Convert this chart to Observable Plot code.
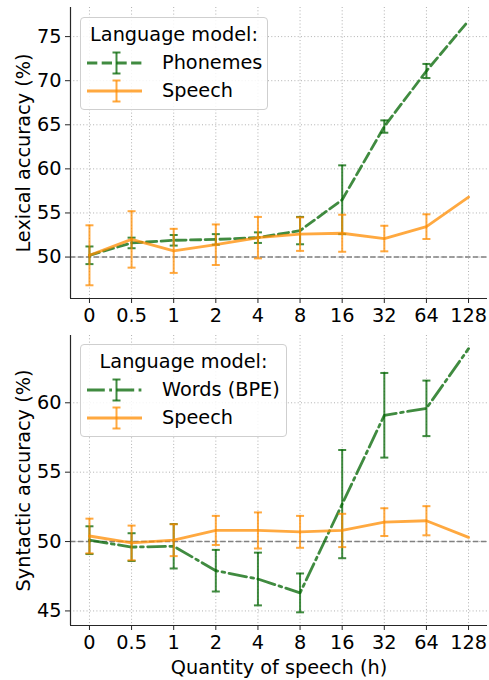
<!DOCTYPE html>
<html>
<head>
<meta charset="utf-8">
<script src="https://cdn.jsdelivr.net/npm/d3@7"></script>
<script src="https://cdn.jsdelivr.net/npm/@observablehq/plot@0.6"></script>
<style>
  body { margin: 0; background: #fff; }
  #wrap { position: relative; width: 489px; height: 680px; font-family: "DejaVu Sans", sans-serif; }
  .panel { position: absolute; left: 0; }
  .panel text { font-size: 19.3px; font-family: "DejaVu Sans", sans-serif; }
  .legend { position: absolute; border: 1px solid #cfcfcf; border-radius: 4px; background: rgba(255,255,255,0.85); box-sizing: border-box; }
  .lt { position: absolute; font-size: 19.3px; color: #000; white-space: nowrap; line-height: 1; }
  .lh { position: absolute; }
</style>
</head>
<body>
<div id="wrap"></div>
<script>
// ---- data ----
const quantities = ["0", "0.5", "1", "2", "4", "8", "16", "32", "64", "128"];

const lexPhonemes    = [50.2, 51.6, 51.9, 52.0, 52.2, 53.0, 56.5, 64.8, 71.1, 76.8];
const lexPhonemesErr = [1.0, 0.6, 0.6, 0.6, 0.6, 1.55, 3.9, 0.7, 0.8, null];
const lexSpeech      = [50.2, 52.0, 50.7, 51.4, 52.2, 52.6, 52.7, 52.1, 53.45, 56.8];
const lexSpeechErr   = [3.4, 3.2, 2.5, 2.3, 2.35, 1.9, 2.1, 1.45, 1.4, null];

const synWords       = [50.1, 49.6, 49.66, 47.9, 47.3, 46.3, 52.7, 59.1, 59.6, 63.9];
const synWordsErr    = [1.0, 1.0, 1.6, 1.5, 1.9, 1.4, 3.9, 3.05, 2.0, null];
const synSpeech      = [50.4, 49.9, 50.1, 50.8, 50.8, 50.7, 50.8, 51.4, 51.5, 50.3];
const synSpeechErr   = [1.25, 1.25, 1.15, 1.05, 1.3, 1.15, 1.2, 1.0, 1.05, null];

const lexTicks = [50, 55, 60, 65, 70, 75];
const synTicks = [45, 50, 55, 60];
const chance = 50;

const GREEN = "#006400", ORANGE = "#ff8c00", ALPHA = 0.75;

function rowsOf(vals, errs) {
  return vals.map((v, i) => ({i, v, e: errs[i]}));
}

function seriesMarks(rows, color, dash) {
  const withErr = rows.filter(d => d.e != null);
  return [
    Plot.line(rows, {x: "i", y: "v", stroke: color, strokeOpacity: ALPHA, strokeWidth: 2.8, strokeDasharray: dash}),
    Plot.ruleX(withErr, {x: "i", y1: d => d.v - d.e, y2: d => d.v + d.e, stroke: color, strokeOpacity: ALPHA, strokeWidth: 2}),
    Plot.link(withErr, {x1: d => d.i - 0.095, x2: d => d.i + 0.095, y1: d => d.v + d.e, y2: d => d.v + d.e, stroke: color, strokeOpacity: ALPHA, strokeWidth: 2}),
    Plot.link(withErr, {x1: d => d.i - 0.095, x2: d => d.i + 0.095, y1: d => d.v - d.e, y2: d => d.v - d.e, stroke: color, strokeOpacity: ALPHA, strokeWidth: 2})
  ];
}

function panel({series, yDomain, ticks, ylabel, xlabel, height, marginTop, marginBottom}) {
  const idx = d3.range(quantities.length);
  return Plot.plot({
    width: 489, height, marginLeft: 70, marginRight: 2, marginTop, marginBottom,
    style: {fontFamily: "DejaVu Sans, sans-serif", fontSize: "19.3px", color: "#000", background: "transparent"},
    x: {type: "linear", domain: [-0.45, quantities.length - 1 + 0.45]},
    y: {domain: yDomain},
    marks: [
      Plot.gridX(idx, {stroke: "#b0b0b0", strokeOpacity: 1, strokeWidth: 1, strokeDasharray: "1,2.3"}),
      Plot.gridY(ticks, {stroke: "#b0b0b0", strokeOpacity: 1, strokeWidth: 1, strokeDasharray: "1,2.3"}),
      Plot.ruleY([chance], {stroke: "#808080", strokeWidth: 1.5, strokeDasharray: "5.5,2.4"}),
      ...series.flatMap(s => seriesMarks(s.rows, s.color, s.dash)),
      Plot.ruleX([-0.45], {stroke: "#262626", strokeWidth: 1.2}),
      Plot.ruleY([yDomain[0]], {stroke: "#262626", strokeWidth: 1.2}),
      Plot.axisX(idx, {tickFormat: i => quantities[i], tickSize: 5, tickPadding: 5, stroke: "#262626",
        label: xlabel, labelAnchor: "center", labelOffset: 48, labelArrow: "none"}),
      Plot.axisY(ticks, {tickSize: 5, tickPadding: 4, stroke: "#262626",
        label: ylabel, labelAnchor: "center", labelOffset: 54, labelArrow: "none"})
    ]
  });
}

const wrap = document.getElementById("wrap");

const top1 = panel({
  series: [
    {rows: rowsOf(lexPhonemes, lexPhonemesErr), color: GREEN, dash: "10.3,4.4"},
    {rows: rowsOf(lexSpeech, lexSpeechErr), color: ORANGE, dash: null}
  ],
  yDomain: [45.3, 78.3], ticks: lexTicks, ylabel: "Lexical accuracy (%)", xlabel: null,
  height: 330, marginTop: 7, marginBottom: 32
});
top1.classList.add("panel"); top1.style.top = "0px";
wrap.appendChild(top1);

const bot = panel({
  series: [
    {rows: rowsOf(synWords, synWordsErr), color: GREEN, dash: "17.8,4.4,2.8,4.4"},
    {rows: rowsOf(synSpeech, synSpeechErr), color: ORANGE, dash: null}
  ],
  yDomain: [43.95, 64.85], ticks: synTicks, ylabel: "Syntactic accuracy (%)", xlabel: "Quantity of speech (h)",
  height: 350, marginTop: 5, marginBottom: 55
});
bot.classList.add("panel"); bot.style.top = "330px";
wrap.appendChild(bot);

// ---- legends ----
function handleSVG(color, dash) {
  const ns = "http://www.w3.org/2000/svg";
  const s = document.createElementNS(ns, "svg");
  s.setAttribute("width", 56); s.setAttribute("height", 26);
  const mk = (tag, attrs) => { const e = document.createElementNS(ns, tag); for (const k in attrs) e.setAttribute(k, attrs[k]); s.appendChild(e); };
  const common = {stroke: color, "stroke-opacity": ALPHA, fill: "none"};
  mk("line", {x1: 0, x2: 55, y1: 13, y2: 13, "stroke-width": 2.8, ...(dash ? {"stroke-dasharray": dash} : {}), ...common});
  mk("line", {x1: 29.5, x2: 29.5, y1: 2.5, y2: 23.5, "stroke-width": 2, ...common});
  mk("line", {x1: 25.5, x2: 33.5, y1: 2.5, y2: 2.5, "stroke-width": 2, ...common});
  mk("line", {x1: 25.5, x2: 33.5, y1: 23.5, y2: 23.5, "stroke-width": 2, ...common});
  return s;
}

function legend({left, top, width, height, entries}) {
  const box = document.createElement("div");
  box.className = "legend";
  Object.assign(box.style, {left: left + "px", top: top + "px", width: width + "px", height: height + "px"});
  const title = document.createElement("div");
  title.className = "lt"; title.textContent = "Language model:";
  Object.assign(title.style, {left: "0", width: "100%", textAlign: "center", top: "7px"});
  box.appendChild(title);
  entries.forEach((e, k) => {
    const h = handleSVG(e.color, e.dash);
    h.classList.add("lh");
    Object.assign(h.style, {left: "6px", top: (32 + k * 28) + "px"});
    box.appendChild(h);
    const t = document.createElement("div");
    t.className = "lt"; t.textContent = e.label;
    Object.assign(t.style, {left: "81px", top: (35 + k * 28) + "px"});
    box.appendChild(t);
  });
  wrap.appendChild(box);
}

legend({left: 80, top: 17, width: 188, height: 93, entries: [
  {label: "Phonemes", color: GREEN, dash: "10.3,4.4"},
  {label: "Speech", color: ORANGE, dash: null}
]});
legend({left: 80, top: 344, width: 207, height: 93, entries: [
  {label: "Words (BPE)", color: GREEN, dash: "17.8,4.4,2.8,4.4"},
  {label: "Speech", color: ORANGE, dash: null}
]});
</script>
</body>
</html>
